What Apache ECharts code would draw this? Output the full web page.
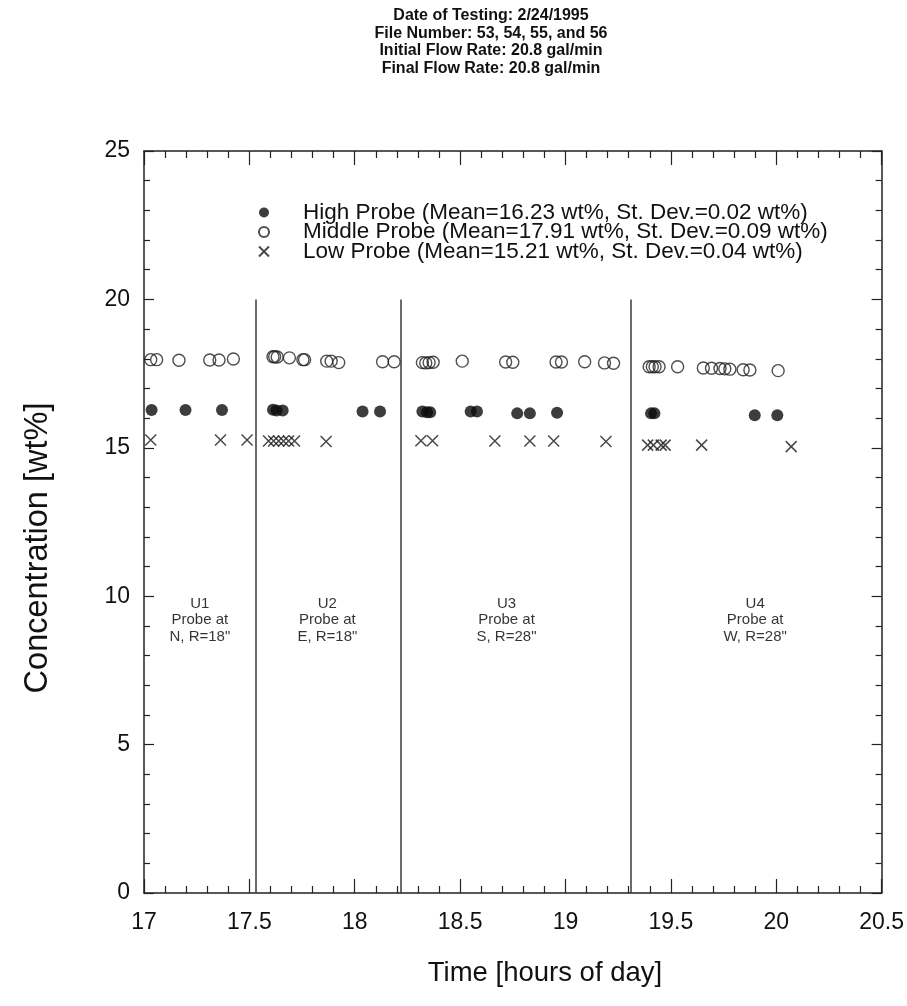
<!DOCTYPE html>
<html>
<head>
<meta charset="utf-8">
<script src="https://cdn.jsdelivr.net/npm/echarts@6/dist/echarts.min.js"></script>
<style>
  html, body { margin: 0; padding: 0; background: #fff; }
  #chart { width: 907px; height: 1006px; }
</style>
</head>
<body>
<div id="chart"></div>
<script>
// Header block above the plot
const headerLines = [
  'Date of Testing: 2/24/1995',
  'File Number: 53, 54, 55, and 56',
  'Initial Flow Rate: 20.8 gal/min',
  'Final Flow Rate: 20.8 gal/min'
];

const seriesNames = [
  'High Probe (Mean=16.23 wt%, St. Dev.=0.02 wt%)',
  'Middle Probe (Mean=17.91 wt%, St. Dev.=0.09 wt%)',
  'Low Probe (Mean=15.21 wt%, St. Dev.=0.04 wt%)'
];

// Time of day [h] and concentration [wt%] for each probe
const highTime = [17.036, 17.197, 17.370, 17.612, 17.629, 17.658, 18.037, 18.120,
  18.321, 18.343, 18.358, 18.550, 18.580, 18.771, 18.831, 18.960,
  19.406, 19.422, 19.898, 20.005];
const highConc = [16.27, 16.27, 16.27, 16.28, 16.26, 16.26, 16.22, 16.22,
  16.22, 16.20, 16.20, 16.22, 16.22, 16.16, 16.16, 16.18,
  16.16, 16.16, 16.10, 16.10];

const middleTime = [17.032, 17.060, 17.166, 17.312, 17.356, 17.424,
  17.612, 17.620, 17.632, 17.690, 17.754, 17.762, 17.867, 17.888, 17.924, 18.132, 18.187,
  18.321, 18.337, 18.353, 18.372, 18.510, 18.716, 18.750, 18.955, 18.981, 19.091, 19.185, 19.228,
  19.397, 19.412, 19.425, 19.444, 19.532, 19.654, 19.693, 19.733, 19.756, 19.780, 19.843, 19.875, 20.009];
const middleConc = [17.97, 17.97, 17.95, 17.96, 17.96, 17.99,
  18.07, 18.07, 18.06, 18.03, 17.97, 17.97, 17.92, 17.92, 17.87, 17.90, 17.90,
  17.87, 17.86, 17.87, 17.88, 17.92, 17.89, 17.88, 17.89, 17.89, 17.90, 17.86, 17.85,
  17.73, 17.73, 17.73, 17.73, 17.73, 17.69, 17.68, 17.67, 17.66, 17.65, 17.63, 17.62, 17.60];

const lowTime = [17.032, 17.363, 17.489, 17.591, 17.615, 17.639, 17.662, 17.686, 17.714, 17.864,
  18.314, 18.369, 18.665, 18.831, 18.944, 19.192,
  19.390, 19.417, 19.454, 19.473, 19.646, 20.071];
const lowConc = [15.26, 15.26, 15.26, 15.23, 15.23, 15.23, 15.23, 15.23, 15.23, 15.21,
  15.24, 15.24, 15.23, 15.23, 15.23, 15.21,
  15.09, 15.09, 15.09, 15.09, 15.09, 15.04];

// Probe relocation times (vertical dividers)
const dividerTimes = [17.53, 18.22, 19.31];
const dividerTop = 20;

// Test-period annotations
const zoneText = ['U1\nProbe at\nN, R=18"', 'U2\nProbe at\nE, R=18"', 'U3\nProbe at\nS, R=28"', 'U4\nProbe at\nW, R=28"'];
const zoneTime = [17.265, 17.87, 18.72, 19.90];
const zoneConc = [9.2, 9.2, 9.2, 9.2];

const FONT = '"Liberation Sans", Arial, Helvetica, sans-serif';
const INK = '#111';
const AXIS = '#222';
const zip = (a, b) => a.map((v, i) => [v, b[i]]);

const baseAxis = {
  type: 'value',
  axisLine: { show: true, onZero: false, lineStyle: { color: AXIS, width: 1.5 } },
  splitLine: { show: false }
};
const xTicks = {
  axisTick: { inside: true, length: 14, lineStyle: { color: AXIS, width: 1.2 } },
  minorTick: { show: true, splitNumber: 5, length: 7, lineStyle: { color: AXIS, width: 1.2 } }
};
const yTicks = {
  axisTick: { inside: true, length: 10, lineStyle: { color: AXIS, width: 1.2 } },
  minorTick: { show: true, splitNumber: 5, length: 6, lineStyle: { color: AXIS, width: 1.2 } }
};

const chart = echarts.init(document.getElementById('chart'), null, { renderer: 'canvas' });
chart.setOption({
  animation: false,
  backgroundColor: '#fff',
  grid: { left: 144, right: 23, top: 151, bottom: 113 },
  xAxis: [
    Object.assign({}, baseAxis, xTicks, {
      min: 17, max: 20.5, interval: 0.5, position: 'bottom',
      axisLabel: { margin: 18, fontSize: 23, color: INK, fontFamily: FONT }
    }),
    Object.assign({}, baseAxis, xTicks, {
      min: 17, max: 20.5, interval: 0.5, position: 'top',
      axisLabel: { show: false }
    })
  ],
  yAxis: [
    Object.assign({}, baseAxis, yTicks, {
      min: 0, max: 25, interval: 5, position: 'left',
      axisLabel: { margin: 14, fontSize: 23, color: INK, fontFamily: FONT }
    }),
    Object.assign({}, baseAxis, yTicks, {
      min: 0, max: 25, interval: 5, position: 'right',
      axisLabel: { show: false }
    })
  ],
  legend: {
    data: seriesNames,
    orient: 'vertical',
    left: 258, top: 201, padding: 0,
    itemWidth: 10, itemHeight: 10, itemGap: -3.5,
    selectedMode: false,
    textStyle: { fontSize: 22.5, color: INK, fontFamily: FONT, padding: [0, 0, 0, 29] }
  },
  graphic: [
    {
      type: 'text', x: 491, y: 7,
      style: {
        text: headerLines.join('\n'), textAlign: 'center', textVerticalAlign: 'top',
        font: 'bold 16px ' + FONT, lineHeight: 17.5, fill: INK
      }
    },
    {
      type: 'text', x: 545, y: 973,
      style: {
        text: 'Time [hours of day]', textAlign: 'center', textVerticalAlign: 'middle',
        font: '27.5px ' + FONT, fill: INK
      }
    },
    {
      type: 'text', x: 38, y: 548, rotation: Math.PI / 2,
      style: {
        text: 'Concentration [wt%]', textAlign: 'center', textVerticalAlign: 'middle',
        font: '32.5px ' + FONT, fill: INK
      }
    }
  ],
  series: [
    {
      name: seriesNames[0], type: 'scatter',
      symbol: 'circle', symbolSize: 12,
      itemStyle: { color: '#0d0d0d' },
      data: zip(highTime, highConc),
      markLine: {
        silent: true, symbol: 'none', label: { show: false },
        lineStyle: { color: '#3a3a3a', width: 1.5, type: 'solid' },
        data: dividerTimes.map(t => [{ coord: [t, 0] }, { coord: [t, dividerTop] }])
      }
    },
    {
      name: seriesNames[1], type: 'scatter',
      symbol: 'circle', symbolSize: 12,
      itemStyle: { color: 'rgba(0,0,0,0)', borderColor: '#222', borderWidth: 1.4 },
      data: zip(middleTime, middleConc)
    },
    {
      name: seriesNames[2], type: 'scatter',
      symbol: 'path://M0,0L10,10M10,0L0,10', symbolSize: 11,
      itemStyle: { color: 'rgba(0,0,0,0)', borderColor: '#1a1a1a', borderWidth: 1.5 },
      data: zip(lowTime, lowConc)
    },
    {
      name: 'zones', type: 'scatter', silent: true,
      symbolSize: 1, itemStyle: { color: 'rgba(0,0,0,0)' },
      label: {
        show: true, position: 'inside', color: '#000', fontFamily: FONT,
        fontSize: 15, lineHeight: 16.5, align: 'center', verticalAlign: 'middle',
        formatter: p => zoneText[p.dataIndex]
      },
      data: zip(zoneTime, zoneConc)
    }
  ]
});
</script>
</body>
</html>
